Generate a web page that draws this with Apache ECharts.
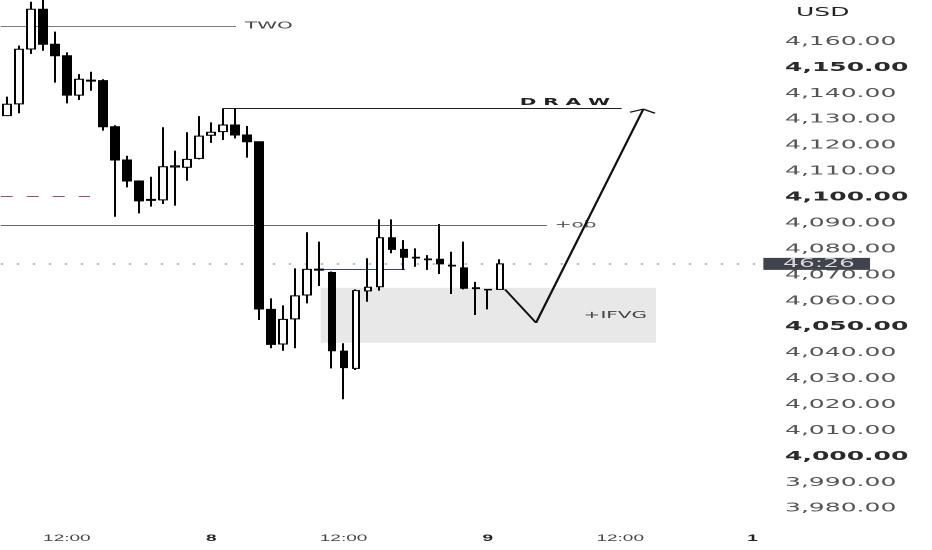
<!DOCTYPE html>
<html><head><meta charset="utf-8">
<script src="https://cdn.jsdelivr.net/npm/echarts@6/dist/echarts.min.js"></script>
<style>
html,body{margin:0;padding:0;background:#fff;overflow:hidden;width:932px;height:550px}
#c{width:466px;height:550px;transform:scaleX(2);transform-origin:0 0}
</style></head><body><div id="c"></div>
<script>
// hourly candles (one-hour daily break)
const categories = [
 '7 07:00','7 08:00','7 09:00','7 10:00','7 11:00','7 12:00','7 13:00','7 14:00','7 15:00','7 16:00','7 17:00','7 18:00','7 19:00','7 20:00','7 21:00','7 22:00','7 23:00',
 '8 00:00','8 02:00','8 03:00','8 04:00','8 05:00','8 06:00','8 07:00','8 08:00','8 09:00','8 10:00','8 11:00','8 12:00','8 13:00','8 14:00','8 15:00','8 16:00','8 17:00','8 18:00','8 19:00','8 20:00','8 21:00','8 22:00','8 23:00',
 '9 00:00','9 02:00','9 03:00','9 04:00','9 05:00','9 06:00','9 07:00','9 08:00','9 09:00','9 10:00','9 11:00','9 12:00','9 13:00','9 14:00','9 15:00','9 16:00','9 17:00','9 18:00','9 19:00','9 20:00','9 21:00','9 22:00','9 23:00',
 '10 00:00'
];
const opens  = [4131.5,4136.0,4157.2,4172.5,4159.0,4154.6,4139.4,4144.8,4145.0,4127.2,4114.4,4106.3,4098.8,4099.0,4111.7,4111.6,4115.0,4123.9,4125.3,4127.9,4124.0,4121.4,4056.8,4043.4,4053.1,4062.3,4071.9,4071.0,4040.7,4034.0,4063.9,4065.5,4084.4,4079.9,4076.9,4076.2,4076.1,4073.8,4072.8,4064.8,4064.3,4064.5];
const closes = [4135.9,4157.1,4172.5,4159.0,4154.6,4139.4,4145.5,4145.2,4127.2,4114.4,4106.3,4098.6,4099.2,4111.8,4112.1,4114.6,4123.6,4125.1,4127.9,4124.0,4121.4,4056.9,4043.3,4052.9,4062.0,4072.2,4072.3,4040.8,4034.3,4064.0,4065.3,4084.4,4079.9,4076.9,4076.6,4075.9,4074.3,4073.5,4064.9,4065.1,4064.5,4074.3];
const lows   = [4131.3,4132.4,4155.3,4156.5,4144.2,4136.2,4137.5,4141.1,4125.7,4092.5,4103.8,4093.8,4096.4,4097.4,4096.8,4106.4,4114.6,4121.0,4122.1,4122.7,4115.3,4052.7,4041.8,4040.8,4041.8,4059.1,4065.8,4034.0,4022.1,4033.4,4059.7,4064.0,4078.4,4072.0,4073.2,4072.0,4070.4,4062.7,4064.5,4054.6,4056.8,4064.3];
const highs  = [4138.8,4158.5,4175.4,4177.0,4163.9,4155.9,4147.5,4148.4,4145.5,4127.8,4116.0,4106.5,4107.9,4127.0,4118.0,4125.1,4131.3,4128.9,4134.3,4134.3,4127.5,4121.6,4061.0,4058.3,4072.6,4086.5,4082.9,4071.4,4043.7,4064.5,4076.5,4091.5,4091.5,4083.5,4080.3,4077.7,4089.7,4079.0,4082.9,4067.4,4064.6,4076.1];

// axes
const yMin = 3970, yMax = 4176.08, yStep = 10;
const yLabelRange = [3980, 4160];
const boldPrices = [4150, 4100, 4050, 4000];
const xTickIdx  = [5, 17, 28, 40, 51, 62];
const xTickText = ['12:00', '8', '12:00', '9', '12:00', '1'];
const xTickBold = ['8', '9', '1'];

// drawings (x in bar index units, y in price)
const twoLine   = [[-0.5, 4166.1], [19.06, 4166.1]];
const drawLine  = [[18, 4134.3], [51.12, 4134.3]];
const obLine    = [[-0.5, 4089.3], [44.9, 4089.3]];
const redLine   = [[-0.5, 4100.5], [6.92, 4100.5]];
const blueLine  = [[26.3, 4072.3], [33.1, 4072.3]];
const ifvgBox   = [[26.1, 4065.1], [53.97, 4043.9]];
const projection = [[41.42, 4064.5], [44.0, 4051.6], [52.92, 4134.0]];
const arrowHead  = [[51.81, 4132.8], [52.92, 4134.0], [53.89, 4132.4]];
const lastPriceEnd = 62.6;
const countdown = '46:26';

const candleData = opens.map((o, i) => [o, closes[i], lows[i], highs[i]]);
const lastClose = closes[closes.length - 1];

function fmtPrice(v) {
  return v.toLocaleString('en-US', {minimumFractionDigits: 2, maximumFractionDigits: 2});
}

const chart = echarts.init(document.getElementById('c'), null, {renderer: 'canvas', devicePixelRatio: 2});
const seg = (p, extra) => [Object.assign({coord: p[0]}, extra || {}), {coord: p[1]}];

chart.setOption({
  animation: false,
  backgroundColor: '#ffffff',
  title: {
    text: 'USD', left: 398, top: 6, padding: 0,
    textStyle: {fontFamily: 'DejaVu Sans', fontSize: 12.5, fontWeight: 'normal', color: '#222'}
  },
  grid: {left: 0.35, right: 80.7, top: 0, bottom: 15.6, containLabel: false, outerBoundsMode: 'none'},
  xAxis: [{
    type: 'category', data: categories, boundaryGap: true,
    axisLine: {show: false}, axisTick: {show: false}, splitLine: {show: false},
    axisLabel: {
      margin: -1, lineHeight: 10,
      interval: (idx) => xTickIdx.includes(idx),
      formatter: (val, idx) => {
        const k = xTickIdx.indexOf(idx);
        if (k < 0) return '';
        const t = xTickText[k];
        return xTickBold.includes(t) ? '{b|' + t + '}' : '{n|' + t + '}';
      },
      rich: {
        n: {fontFamily: 'Liberation Sans', fontSize: 9.5, color: '#444', lineHeight: 10},
        b: {fontFamily: 'Liberation Sans', fontSize: 9.5, fontWeight: 'bold', color: '#222', lineHeight: 10}
      }
    }
  }, {
    type: 'value', min: -0.5, max: categories.length - 0.5, show: false
  }],
  yAxis: {
    type: 'value', position: 'right', min: yMin, max: yMax, interval: yStep, scale: true,
    axisLine: {show: false}, axisTick: {show: false}, splitLine: {show: false},
    axisLabel: {
      margin: 7.2, align: 'left',
      formatter: (v) => {
        if (v > yLabelRange[1] + 0.5 || v < yLabelRange[0] - 0.5) return '';
        const r = Math.round(v);
        return boldPrices.includes(r) ? '{b|' + fmtPrice(r) + '}' : '{n|' + fmtPrice(r) + '}';
      },
      rich: {
        n: {fontFamily: 'DejaVu Sans', fontSize: 12.5, color: '#555'},
        b: {fontFamily: 'DejaVu Sans', fontSize: 12.5, fontWeight: 'bold', color: '#2a2a2a'}
      }
    }
  },
  series: [{
    name: 'annotations-back', type: 'line', xAxisIndex: 1, data: [], z: 1, silent: true,
    markArea: {
      silent: true,
      itemStyle: {color: '#e8e8e8'},
      label: {show: true, position: 'insideRight', distance: 4.5, formatter: '+IFVG',
        fontFamily: 'DejaVu Sans', fontSize: 10, color: '#444'},
      data: [[{coord: ifvgBox[0]}, {coord: ifvgBox[1]}]]
    }
  }, {
    name: 'XAUUSD', type: 'candlestick', xAxisIndex: 0, data: candleData, z: 5,
    barWidth: 4,
    itemStyle: {color: '#ffffff', color0: '#000000', borderColor: '#000000', borderColor0: '#000000', borderWidth: 1}
  }, {
    name: 'annotations', type: 'line', xAxisIndex: 1, data: [], z: 6, silent: true,
    markLine: {
      silent: true, symbol: ['none', 'none'], animation: false,
      data: [
        seg(twoLine, {lineStyle: {color: '#7a7a7a', width: 1, type: 'solid'},
          label: {show: true, position: 'end', distance: 4.5, formatter: 'TWO', fontFamily: 'DejaVu Sans', fontSize: 10, color: '#444'}}),
        seg(drawLine, {lineStyle: {color: '#222', width: 1, type: 'solid'},
          label: {show: true, position: 'insideEndTop', distance: [5.8, 1], formatter: 'D R A W', fontFamily: 'DejaVu Sans', fontSize: 10, fontWeight: 'bold', color: '#222'}}),
        seg(obLine, {lineStyle: {color: '#666', width: 1, type: 'solid'},
          label: {show: true, position: 'end', distance: 4, formatter: '+ob', fontFamily: 'DejaVu Sans', fontSize: 10, color: '#555'}}),
        seg(redLine, {lineStyle: {color: '#a0525c', width: 1, type: [6, 7]}, label: {show: false}}),
        seg(blueLine, {lineStyle: {color: '#2a3ccc', width: 1, type: 'solid'}, label: {show: false}}),
        seg([[-0.5, lastClose], [lastPriceEnd, lastClose]], {lineStyle: {color: '#aaaaaa', width: 1.5, type: [1.2, 6.8]},
          label: {show: true, position: 'end', distance: 1.8, formatter: countdown, fontFamily: 'DejaVu Sans', fontSize: 12.5,
            color: '#d8d8d8', backgroundColor: '#3f434e', padding: [0, 7.5, 0, 9.8], lineHeight: 12}})
      ]
    }
  }, {
    name: 'projection', type: 'line', xAxisIndex: 1, data: projection, z: 7, silent: true,
    symbol: 'none', lineStyle: {color: '#111', width: 1.2}
  }, {
    name: 'arrowhead', type: 'line', xAxisIndex: 1, data: arrowHead, z: 7, silent: true,
    symbol: 'none', lineStyle: {color: '#111', width: 1.2}
  }]
});
</script></body></html>
